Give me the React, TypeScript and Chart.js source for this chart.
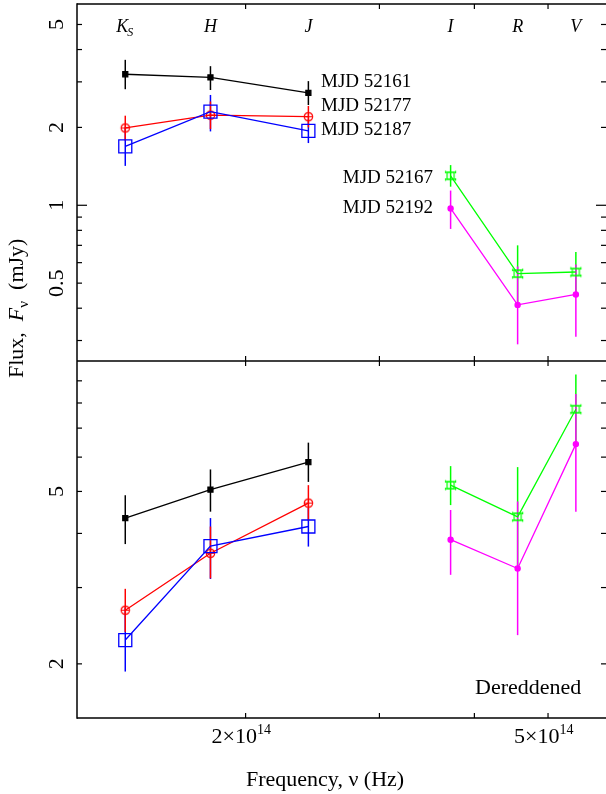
import React, { useEffect, useRef } from "react";
import { Chart, registerables } from "chart.js";

Chart.register(...registerables);

// Effective band frequencies (Hz)
const nirFreq = [1.389e14, 1.798e14, 2.419e14]; // Ks, H, J
const optFreq = [3.722e14, 4.56e14, 5.44e14]; // I, R, V
const bandFreq = [...nirFreq, ...optFreq];
const bandLabels = ["K", "H", "J", "I", "R", "V"];

// Observed fluxes (mJy), upper panel
const obs52161 = [3.21, 3.12, 2.72];
const obs52161Lo = [2.81, 2.79, 2.44];
const obs52161Hi = [3.65, 3.45, 3.02];
const obs52177 = [1.99, 2.23, 2.2];
const obs52177Lo = [1.78, 1.97, 2.0];
const obs52177Hi = [2.22, 2.52, 2.42];
const obs52187 = [1.69, 2.3, 1.94];
const obs52187Lo = [1.42, 1.93, 1.74];
const obs52187Hi = [2.0, 2.67, 2.15];
const obs52167 = [1.3, 0.544, 0.552];
const obs52167Lo = [1.18, 0.42, 0.46];
const obs52167Hi = [1.43, 0.7, 0.66];
const obs52192 = [0.972, 0.412, 0.452];
const obs52192Lo = [0.81, 0.29, 0.31];
const obs52192Hi = [1.14, 0.58, 0.59];

// Dereddened fluxes (mJy), lower panel
const der52161 = [4.34, 5.05, 5.84];
const der52161Lo = [3.78, 4.49, 5.26];
const der52161Hi = [4.9, 5.62, 6.48];
const der52177 = [2.66, 3.6, 4.7];
const der52177Lo = [2.37, 3.15, 4.28];
const der52177Hi = [2.98, 4.15, 5.17];
const der52187 = [2.27, 3.74, 4.15];
const der52187Lo = [1.92, 3.14, 3.73];
const der52187Hi = [2.7, 4.34, 4.58];
const der52167 = [5.17, 4.37, 7.74];
const der52167Lo = [4.65, 3.36, 6.43];
const der52167Hi = [5.72, 5.69, 9.31];
const der52192 = [3.87, 3.32, 6.43];
const der52192Lo = [3.21, 2.33, 4.49];
const der52192Hi = [4.53, 4.74, 8.39];

// Axis ranges and ticks
const xRange = [1.2e14, 5.96e14];
const topRange = [0.25, 6];
const botRange = [1.5, 10];
const xLabelTicks = [2e14, 5e14];
const xMinorTicks = [3e14, 4e14];
const topLabelTicks = [0.5, 1, 2, 5];
const topMinorTicks = [0.3, 0.4, 0.6, 0.7, 0.8, 0.9, 3, 4];
const topDecadeTicks = [1];
const botLabelTicks = [2, 5];
const botMinorTicks = [3, 4, 6, 7, 8, 9];

const SERIF = "'Liberation Serif', 'Times New Roman', serif";

function makeMarker(size: number, draw: (g: CanvasRenderingContext2D, c: number) => void) {
  const cv = document.createElement("canvas");
  cv.width = size;
  cv.height = size;
  const g = cv.getContext("2d")!;
  draw(g, size / 2);
  return cv;
}

function line(ctx: CanvasRenderingContext2D, x1: number, y1: number, x2: number, y2: number) {
  ctx.beginPath();
  ctx.moveTo(x1, y1);
  ctx.lineTo(x2, y2);
  ctx.stroke();
}

function supLabel(ctx: CanvasRenderingContext2D, base: string, sup: string, x: number, y: number) {
  ctx.font = `22px ${SERIF}`;
  ctx.textAlign = "left";
  ctx.fillText(base, x, y);
  const w = ctx.measureText(base).width;
  ctx.font = `14px ${SERIF}`;
  ctx.fillText(sup, x + w, y - 9);
}

const errorBars = {
  id: "errorBars",
  beforeDatasetsDraw(chart: any) {
    const ctx = chart.ctx;
    const xs = chart.scales.x;
    ctx.save();
    ctx.lineWidth = 1.5;
    chart.data.datasets.forEach((ds: any) => {
      const ys = chart.scales[ds.yAxisID];
      ctx.strokeStyle = ds.borderColor;
      ds.data.forEach((p: any, i: number) => {
        const x = xs.getPixelForValue(p.x);
        line(ctx, x, ys.getPixelForValue(ds.errLo[i]), x, ys.getPixelForValue(ds.errHi[i]));
      });
    });
    ctx.restore();
  },
};

const frameAndText = {
  id: "frameAndText",
  afterDraw(chart: any) {
    const ctx: CanvasRenderingContext2D = chart.ctx;
    const { left, right, top, bottom } = chart.chartArea;
    const xs = chart.scales.x;
    const yt = chart.scales.yTop;
    const yb = chart.scales.yBot;
    const mid = yt.bottom;
    ctx.save();
    ctx.strokeStyle = "#000";
    ctx.fillStyle = "#000";

    // frame
    ctx.lineWidth = 1.5;
    line(ctx, left, top - 0.75, left, bottom + 0.75);
    line(ctx, left, top, right, top);
    line(ctx, left, mid, right, mid);
    line(ctx, left, bottom, right, bottom);

    // y ticks, both sides
    ctx.lineWidth = 1.2;
    const yTick = (s: any, v: number, len: number) => {
      const y = s.getPixelForValue(v);
      line(ctx, left, y, left + len, y);
      line(ctx, right, y, right - len, y);
    };
    [...topLabelTicks, ...topMinorTicks].forEach((v) => yTick(yt, v, topDecadeTicks.includes(v) ? 10 : 5));
    [...botLabelTicks, ...botMinorTicks].forEach((v) => yTick(yb, v, 5));

    // x ticks at panel edges
    [...xLabelTicks, ...xMinorTicks].forEach((v) => {
      const x = xs.getPixelForValue(v);
      line(ctx, x, top, x, top + 5);
      line(ctx, x, mid - 5, x, mid + 5);
      line(ctx, x, bottom, x, bottom - 5);
    });

    // y tick labels (rotated)
    ctx.font = `22px ${SERIF}`;
    ctx.textAlign = "center";
    ctx.textBaseline = "alphabetic";
    const yLab = (s: any, v: number) => {
      ctx.save();
      ctx.translate(63, s.getPixelForValue(v));
      ctx.rotate(-Math.PI / 2);
      ctx.fillText(String(v), 0, 0);
      ctx.restore();
    };
    topLabelTicks.forEach((v) => yLab(yt, v));
    botLabelTicks.forEach((v) => yLab(yb, v));

    // x tick labels
    xLabelTicks.forEach((v) => {
      const x = xs.getPixelForValue(v);
      const exp = Math.floor(Math.log10(v) + 1e-9);
      const mant = Math.round(v / Math.pow(10, exp));
      supLabel(ctx, `${mant}\u00d710`, String(exp), x - 34, 743);
    });

    // x axis title
    ctx.font = `22px ${SERIF}`;
    ctx.textAlign = "left";
    ctx.fillText("Frequency, \u03bd (Hz)", 246, 786);

    // y axis title (rotated)
    ctx.save();
    ctx.translate(23, 378);
    ctx.rotate(-Math.PI / 2);
    ctx.textAlign = "left";
    let cx = 0;
    ctx.font = `22px ${SERIF}`;
    const p1 = "Flux,  ";
    ctx.fillText(p1, cx, 0);
    cx += ctx.measureText(p1).width;
    ctx.font = `italic 22px ${SERIF}`;
    ctx.fillText("F", cx, 0);
    cx += ctx.measureText("F").width;
    ctx.font = `15px ${SERIF}`;
    ctx.fillText("\u03bd", cx, 5);
    cx += ctx.measureText("\u03bd").width;
    ctx.font = `22px ${SERIF}`;
    ctx.fillText("  (mJy)", cx, 0);
    ctx.restore();

    // band names along the top
    ctx.textAlign = "center";
    bandLabels.forEach((b, i) => {
      const x = xs.getPixelForValue(bandFreq[i]);
      if (i === 0) {
        ctx.font = `italic 18px ${SERIF}`;
        const wk = ctx.measureText(b).width;
        ctx.font = `italic 12px ${SERIF}`;
        const ws = ctx.measureText("S").width;
        const x0 = x - (wk + ws) / 2;
        ctx.textAlign = "left";
        ctx.font = `italic 18px ${SERIF}`;
        ctx.fillText(b, x0, 32);
        ctx.font = `italic 12px ${SERIF}`;
        ctx.fillText("S", x0 + wk - 1, 36);
        ctx.textAlign = "center";
      } else {
        ctx.font = `italic 18px ${SERIF}`;
        ctx.fillText(b, x, 32);
      }
    });

    // epoch labels
    ctx.font = `19px ${SERIF}`;
    ctx.textAlign = "left";
    ctx.fillText("MJD 52161", 321, 87);
    ctx.fillText("MJD 52177", 321, 111);
    ctx.fillText("MJD 52187", 321, 135);
    ctx.textAlign = "right";
    ctx.fillText("MJD 52167", 433, 183);
    ctx.fillText("MJD 52192", 433, 213);

    ctx.font = `22px ${SERIF}`;
    ctx.textAlign = "left";
    ctx.fillText("Dereddened", 475, 694);
    ctx.restore();
  },
};

export default function App() {
  const ref = useRef<HTMLCanvasElement | null>(null);

  useEffect(() => {
    const RED = "#ff0000";
    const GREEN = "#00ff00";

    const circlePlus = makeMarker(13, (g, c) => {
      g.strokeStyle = RED;
      g.lineWidth = 1.2;
      g.beginPath();
      g.arc(c, c, 4.2, 0, Math.PI * 2);
      g.stroke();
      g.beginPath();
      g.moveTo(c - 4.2, c);
      g.lineTo(c + 4.2, c);
      g.moveTo(c, c - 4.2);
      g.lineTo(c, c + 4.2);
      g.stroke();
    });

    const boxMark = makeMarker(15, (g, c) => {
      g.strokeStyle = GREEN;
      g.lineWidth = 1.2;
      g.strokeRect(c - 3.5, c - 3.5, 7, 7);
      g.beginPath();
      g.moveTo(c - 5, c - 3.5);
      g.lineTo(c + 5, c - 3.5);
      g.moveTo(c - 5, c + 3.5);
      g.lineTo(c + 5, c + 3.5);
      g.moveTo(c - 5, c - 5);
      g.lineTo(c - 5, c - 2.5);
      g.moveTo(c + 5, c - 5);
      g.lineTo(c + 5, c - 2.5);
      g.moveTo(c - 5, c + 5);
      g.lineTo(c - 5, c + 2.5);
      g.moveTo(c + 5, c + 5);
      g.lineTo(c + 5, c + 2.5);
      g.stroke();
    });

    const series = (
      freq: number[],
      val: number[],
      lo: number[],
      hi: number[],
      panel: string,
      color: string,
      point: any
    ) => ({
      data: freq.map((f, i) => ({ x: f, y: val[i] })),
      errLo: lo,
      errHi: hi,
      yAxisID: panel,
      xAxisID: "x",
      showLine: true,
      borderColor: color,
      borderWidth: 1.3,
      backgroundColor: color,
      pointBorderColor: color,
      pointBorderWidth: 1.2,
      ...point,
    });

    const blackPt = { pointStyle: "rect", pointRadius: 3.6, pointBackgroundColor: "#000" };
    const redPt = { pointStyle: circlePlus, pointRadius: 5 };
    const bluePt = { pointStyle: "rect", pointRadius: 9.2, pointBackgroundColor: "rgba(0,0,0,0)", pointBorderWidth: 1.3 };
    const greenPt = { pointStyle: boxMark, pointRadius: 6 };
    const magentaPt = { pointStyle: "circle", pointRadius: 2.6, pointBackgroundColor: "#ff00ff" };

    const datasets = [
      series(nirFreq, obs52187, obs52187Lo, obs52187Hi, "yTop", "#0000ff", bluePt),
      series(nirFreq, obs52177, obs52177Lo, obs52177Hi, "yTop", RED, redPt),
      series(nirFreq, obs52161, obs52161Lo, obs52161Hi, "yTop", "#000000", blackPt),
      series(optFreq, obs52167, obs52167Lo, obs52167Hi, "yTop", GREEN, greenPt),
      series(optFreq, obs52192, obs52192Lo, obs52192Hi, "yTop", "#ff00ff", magentaPt),
      series(nirFreq, der52187, der52187Lo, der52187Hi, "yBot", "#0000ff", bluePt),
      series(nirFreq, der52177, der52177Lo, der52177Hi, "yBot", RED, redPt),
      series(nirFreq, der52161, der52161Lo, der52161Hi, "yBot", "#000000", blackPt),
      series(optFreq, der52167, der52167Lo, der52167Hi, "yBot", GREEN, greenPt),
      series(optFreq, der52192, der52192Lo, der52192Hi, "yBot", "#ff00ff", magentaPt),
    ];

    const hidden = {
      ticks: { display: false },
      grid: { display: false },
      border: { display: false },
    };

    const chart = new Chart(ref.current!, {
      type: "scatter",
      data: { datasets: datasets as any },
      options: {
        responsive: false,
        devicePixelRatio: 1,
        animation: false,
        events: [],
        layout: { autoPadding: false, padding: { left: 77, top: 4, right: 0, bottom: 76 } },
        plugins: { legend: { display: false }, tooltip: { enabled: false } },
        scales: {
          x: {
            type: "logarithmic",
            min: xRange[0],
            max: xRange[1],
            ...hidden,
            afterFit: (s: any) => {
              s.height = 0;
            },
          },
          yBot: {
            type: "logarithmic",
            position: "left",
            stack: "flux",
            stackWeight: 1,
            min: botRange[0],
            max: botRange[1],
            ...hidden,
            afterFit: (s: any) => {
              s.width = 0;
            },
          },
          yTop: {
            type: "logarithmic",
            position: "left",
            stack: "flux",
            stackWeight: 1,
            min: topRange[0],
            max: topRange[1],
            ...hidden,
            afterFit: (s: any) => {
              s.width = 0;
            },
          },
        } as any,
      },
      plugins: [errorBars, frameAndText],
    });
    return () => chart.destroy();
  }, []);

  return (
    <div style={{ position: "absolute", left: 0, top: 0, width: 606, height: 794, background: "#fff" }}>
      <canvas ref={ref} width={606} height={794} style={{ display: "block" }} />
    </div>
  );
}
